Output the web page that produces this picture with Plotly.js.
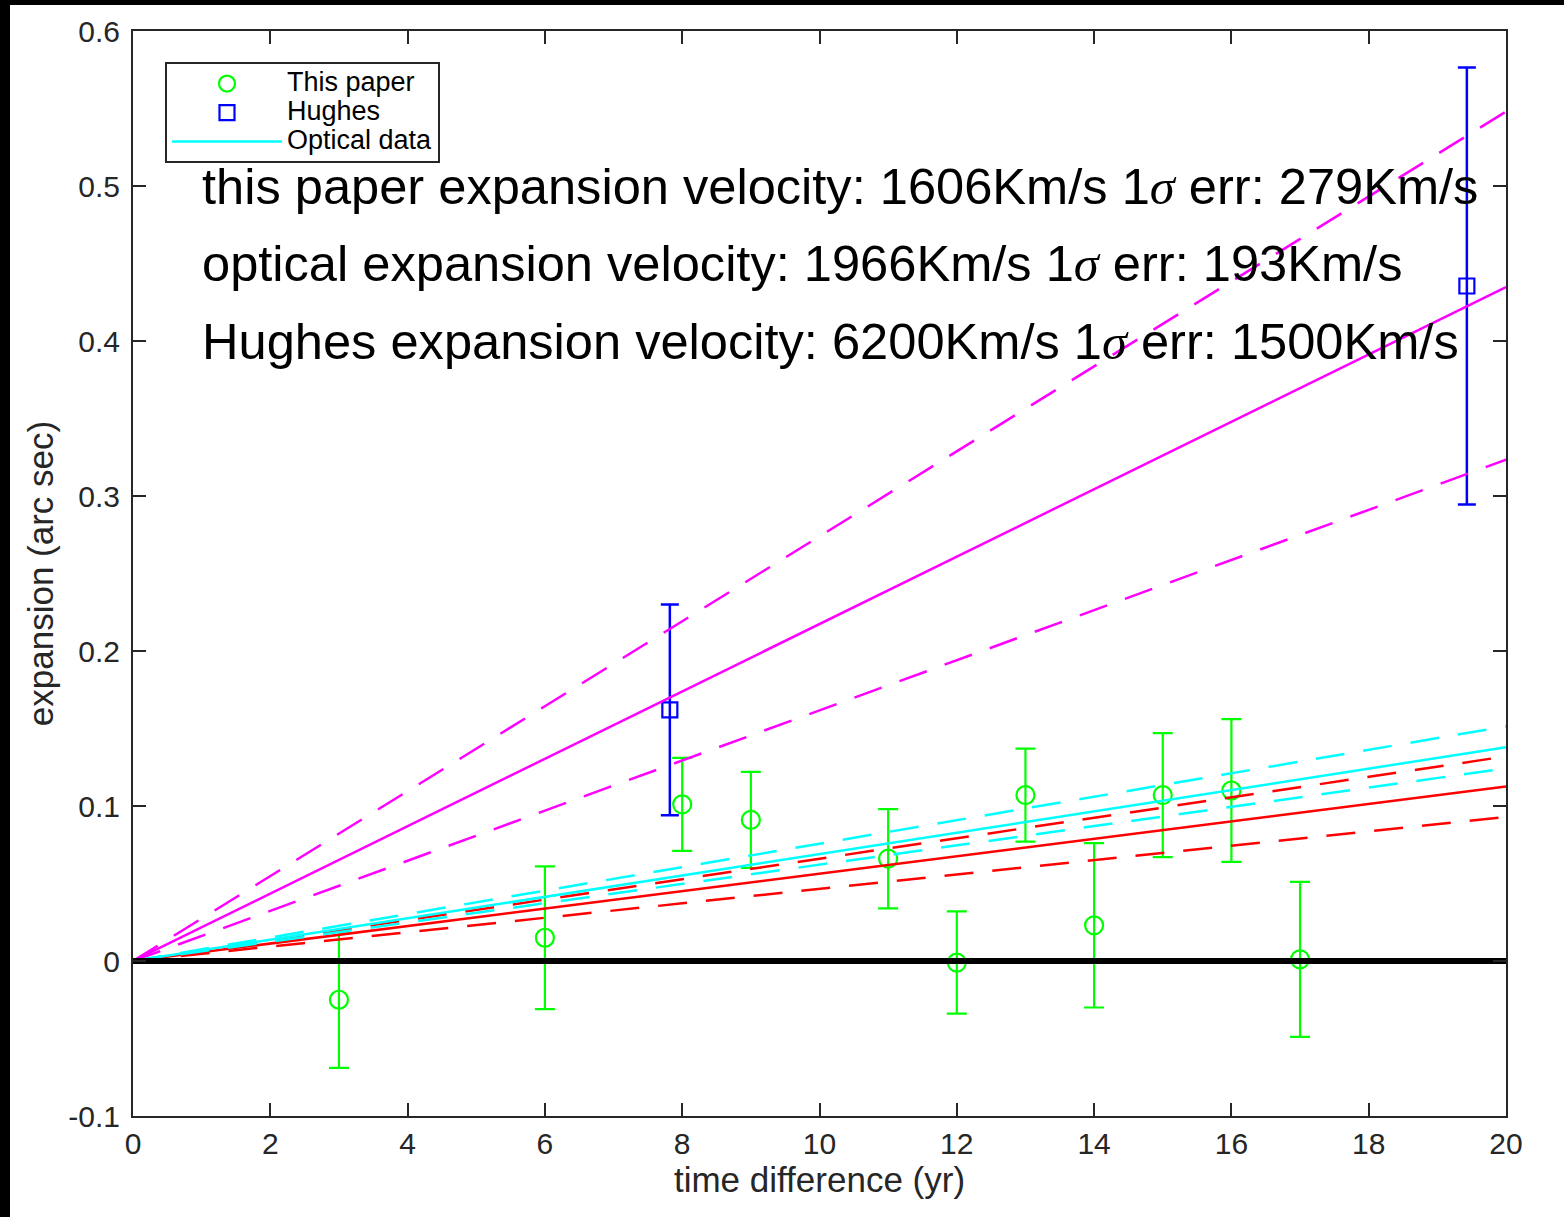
<!DOCTYPE html>
<html>
<head>
<meta charset="utf-8">
<script src="https://cdn.plot.ly/plotly-3.0.1.min.js"></script>
<style>
  html, body { margin: 0; padding: 0; background: #000; width: 1564px; height: 1217px; overflow: hidden; }
  #chart { position: absolute; left: 10px; top: 5px; width: 1554px; height: 1212px; background: #fff; }
</style>
</head>
<body>
<div id="chart"></div>
<script>
// ---- data ----
const paperX   = [3, 6, 8, 9, 11, 12, 13, 14, 15, 16, 17];
const paperY   = [-0.025, 0.015, 0.101, 0.091, 0.066, -0.001, 0.107, 0.023, 0.107, 0.110, 0.001];
const paperErr = [0.044, 0.046, 0.030, 0.031, 0.032, 0.033, 0.030, 0.053, 0.040, 0.046, 0.050];

const hughesX   = [7.82, 19.43];
const hughesY   = [0.162, 0.4355];
const hughesErr = [0.068, 0.141];

const fitX       = [0, 20];
const hughesFit  = [0, 0.4348];
const hughesLo   = [0, 0.3234];
const hughesHi   = [0, 0.548];
const paperFit   = [0, 0.1126];
const paperLo    = [0, 0.0930];
const paperHi    = [0, 0.1320];
const opticalFit = [0, 0.1379];
const opticalLo  = [0, 0.1243];
const opticalHi  = [0, 0.1514];
const zeroLine   = [0, 0];

const xTicks = [0, 2, 4, 6, 8, 10, 12, 14, 16, 18, 20];
const xTickText = ['0', '2', '4', '6', '8', '10', '12', '14', '16', '18', '20'];
const yTicks = [-0.1, 0, 0.1, 0.2, 0.3, 0.4, 0.5, 0.6];
const yTickText = ['-0.1', '0', '0.1', '0.2', '0.3', '0.4', '0.5', '0.6'];

const SIG = '<span style="font-family:\'Liberation Serif\'"><i>σ</i></span>';
const noteLines = [
  'this paper expansion velocity: 1606Km/s 1' + SIG + ' err: 279Km/s',
  'optical expansion velocity: 1966Km/s 1' + SIG + ' err: 193Km/s',
  'Hughes expansion velocity: 6200Km/s 1' + SIG + ' err: 1500Km/s'
];
const noteY = [0.5, 0.45, 0.4];

// ---- styles ----
const MAG = '#ff00ff', RED = '#ff0000', CYAN = '#00ffff', GREEN = '#00ff00', BLUE = '#0000ff';
const DASH = '29px,19px';
const FONT = 'Liberation Sans, Arial, Helvetica, sans-serif';
const LEG = (t) => '<span style="font-size:27px">' + t + '</span>';

function fitTrace(y, color, dash, name, show, rank) {
  return {
    x: fitX, y: y, type: 'scatter', mode: 'lines',
    line: { color: color, width: 2.5, dash: dash },
    name: name || '', showlegend: !!show, legendrank: rank || 1000,
    hoverinfo: 'skip'
  };
}

const traces = [
  {
    x: paperX, y: paperY, type: 'scatter', mode: 'markers', name: LEG('This paper'),
    legendrank: 1,
    marker: { symbol: 'circle-open', size: 18, color: GREEN, line: { width: 2.2, color: GREEN } },
    error_y: { type: 'data', array: paperErr, visible: true, color: GREEN, thickness: 2.2, width: 10 }
  },
  {
    x: hughesX, y: hughesY, type: 'scatter', mode: 'markers', name: LEG('Hughes'),
    legendrank: 2,
    marker: { symbol: 'square-open', size: 15, color: BLUE, line: { width: 2.2, color: BLUE } },
    error_y: { type: 'data', array: hughesErr, visible: true, color: BLUE, thickness: 2.5, width: 9 }
  },
  fitTrace(hughesFit, MAG, 'solid'),
  fitTrace(hughesLo, MAG, DASH),
  fitTrace(hughesHi, MAG, DASH),
  fitTrace(paperFit, RED, 'solid'),
  fitTrace(paperLo, RED, DASH),
  fitTrace(paperHi, RED, DASH),
  fitTrace(opticalFit, CYAN, 'solid', LEG('Optical data'), true, 3),
  fitTrace(opticalLo, CYAN, DASH),
  fitTrace(opticalHi, CYAN, DASH),
  {
    x: fitX, y: zeroLine, type: 'scatter', mode: 'lines',
    line: { color: '#000000', width: 6 }, showlegend: false, hoverinfo: 'skip'
  }
];

const annotations = noteLines.map((t, i) => ({
  text: t, xref: 'paper', x: 0.0488, xanchor: 'left',
  yref: 'y', y: noteY[i], yanchor: 'middle',
  showarrow: false, font: { family: FONT, size: 50.6, color: '#000' }
}));

const axisCommon = {
  showgrid: false, zeroline: false,
  showline: true, linecolor: '#262626', linewidth: 2, mirror: 'ticks',
  ticks: 'inside', ticklen: 13, tickwidth: 2, tickcolor: '#262626',
  ticklabelstandoff: 5,
  tickfont: { family: FONT, size: 30, color: '#262626' }
};

const layout = {
  width: 1554, height: 1212,
  margin: { l: 123, r: 58, t: 26, b: 101 },
  paper_bgcolor: '#ffffff', plot_bgcolor: '#ffffff',
  font: { family: FONT, color: '#262626' },
  xaxis: Object.assign({}, axisCommon, {
    range: [0, 20], tickmode: 'array', tickvals: xTicks, ticktext: xTickText,
    ticklabelstandoff: 0,
    title: { text: 'time difference (yr)', font: { family: FONT, size: 35, color: '#262626' }, standoff: 0 }
  }),
  yaxis: Object.assign({}, axisCommon, {
    range: [-0.1, 0.6], tickmode: 'array', tickvals: yTicks, ticktext: yTickText,
    title: { text: 'expansion (arc sec)', font: { family: FONT, size: 35, color: '#262626' }, standoff: 4 }
  }),
  showlegend: true,
  legend: {
    x: 0.0233, y: 0.9714, xanchor: 'left', yanchor: 'top',
    bgcolor: '#ffffff', bordercolor: '#262626', borderwidth: 2,
    font: { family: FONT, size: 20, color: '#000' },
    itemwidth: 110, tracegroupgap: 0, traceorder: 'normal'
  },
  annotations: annotations
};

Plotly.newPlot('chart', traces, layout, { displayModeBar: false, staticPlot: true });
</script>
</body>
</html>
